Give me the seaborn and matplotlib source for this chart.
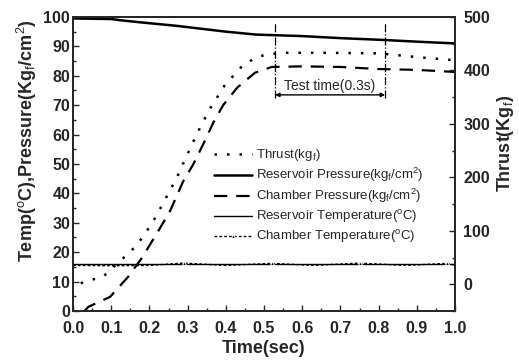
import matplotlib
matplotlib.use("Agg")
import matplotlib.pyplot as plt
import seaborn as sns
import numpy as np

# Thrust (right axis, Kg_f)
thrust_t = [0.02, 0.08, 0.136, 0.167, 0.207, 0.24, 0.272, 0.298, 0.327, 0.359,
            0.398, 0.445, 0.484, 0.52, 0.55, 0.65, 0.8, 0.9, 1.0]
thrust = [2, 15, 52, 73, 114, 157, 200, 241, 285, 329,
          373, 410, 426, 431, 433, 433, 432, 425, 419]

# Reservoir pressure (kg_f/cm^2)
res_p_t = [0.0, 0.1, 0.13, 0.19, 0.27, 0.4, 0.48, 0.6, 0.7, 0.81, 0.9, 1.0]
res_p = [99.5, 99.3, 98.8, 98.0, 97.0, 95.0, 94.0, 93.5, 92.8, 92.2, 91.6, 91.0]

# Chamber pressure (kg_f/cm^2)
ch_p_t = [0.03, 0.04, 0.097, 0.144, 0.18, 0.22, 0.254, 0.288, 0.314, 0.34, 0.367,
          0.393, 0.43, 0.476, 0.52, 0.6, 0.7, 0.8, 0.9, 1.0]
ch_p = [0.0, 1.4, 4.8, 11.6, 18.0, 26.5, 34.0, 44.0, 49.7, 56.5, 64.0,
        70.0, 76.0, 81.0, 83.0, 83.2, 83.0, 82.3, 82.0, 81.3]

# Reservoir temperature (C)
res_t_t = [0.0, 1.0]
res_t = [15.9, 15.9]

# Chamber temperature (C)
ch_t_t = [0.0, 0.1, 0.2, 0.29, 0.4, 0.52, 0.63, 0.75, 0.87, 0.98, 1.0]
ch_t = [15.5, 15.4, 15.5, 16.3, 15.5, 16.2, 15.5, 16.3, 15.5, 16.2, 15.6]

# test-time annotation
test_start, test_end = 0.529, 0.817

sns.set_style("ticks")
plt.rcParams['font.family'] = ['Liberation Sans', 'DejaVu Sans']
plt.rcParams['mathtext.fontset'] = 'custom'
plt.rcParams['mathtext.rm'] = 'Liberation Sans'
plt.rcParams['mathtext.it'] = 'Liberation Sans'
plt.rcParams['mathtext.bf'] = 'Liberation Sans:bold'

fig = plt.figure(figsize=(5.19, 3.61), dpi=100)
ax = fig.add_axes([0.1407, 0.1385, 0.736, 0.8145])
ax2 = ax.twinx()

sns.lineplot(x=res_p_t, y=res_p, ax=ax, color='black', lw=1.8,
             label='Reservoir Pressure(kg$_f$/cm$^2$)')
sns.lineplot(x=ch_p_t, y=ch_p, ax=ax, color='black', lw=1.6,
             linestyle=(0, (6, 4)), label='Chamber Pressure(kg$_f$/cm$^2$)')
sns.lineplot(x=res_t_t, y=res_t, ax=ax, color='black', lw=1.0,
             label='Reservoir Temperature($^o$C)')
sns.lineplot(x=ch_t_t, y=ch_t, ax=ax, color='black', lw=1.0,
             linestyle=(0, (2, 1.5)), marker='^', markersize=3,
             markevery=[3, 5, 7, 9], label='Chamber Temperature($^o$C)')
sns.lineplot(x=thrust_t, y=thrust, ax=ax2, color='black', lw=1.8,
             linestyle=(0, (1, 4)), label='Thrust(kg$_f$)')

# test time markers
for xv in (test_start, test_end):
    ax.plot([xv, xv], [72.4, 98], color='black', lw=0.9, linestyle='-.')
ax.annotate('', xy=(test_start, 73.5), xytext=(test_end, 73.5),
            arrowprops=dict(arrowstyle='<|-|>', color='black', lw=1.0,
                            mutation_scale=6, shrinkA=0, shrinkB=0))
ax.text((test_start + test_end) / 2, 76.5, 'Test time(0.3s)', ha='center',
        va='center', fontsize=10)

ax.set_xlim(0, 1.0)
ax.set_ylim(0, 100)
ax2.set_ylim(-50, 500)
ax.set_xticks(np.arange(0, 1.01, 0.1))
ax.set_xticks(np.arange(0, 1.01, 0.05), minor=True)
ax.set_xticklabels([f'{v:.1f}' for v in np.arange(0, 1.01, 0.1)])
ax.set_yticks(np.arange(0, 101, 10))
ax.set_yticks(np.arange(0, 101, 5), minor=True)
ax2.set_yticks(np.arange(0, 501, 100))
ax2.set_yticks(np.arange(-50, 501, 50), minor=True)

for a in (ax, ax2):
    a.tick_params(which='both', direction='in', width=1.0)
    a.tick_params(which='major', length=4, labelsize=11.5)
    a.tick_params(which='minor', length=2)
    for lab in a.get_xticklabels() + a.get_yticklabels():
        lab.set_fontweight('bold')
    for s in a.spines.values():
        s.set_visible(True)
        s.set_linewidth(1.3)
ax.tick_params(axis='y', pad=2)
ax.tick_params(axis='x', pad=7)
ax2.tick_params(axis='y', pad=6)

ax.set_xlabel('Time(sec)', fontsize=13, fontweight='bold')
ax.xaxis.set_label_coords(0.5, -0.1)
ax.set_ylabel(r'Temp($^o$C),Pressure(Kg$_f$/cm$^2$)', fontsize=13,
              fontweight='bold')
ax.yaxis.set_label_coords(-0.09, 0.58)
ax2.set_ylabel(r'Thrust(Kg$_f$)', fontsize=13, fontweight='bold')
ax2.yaxis.set_label_coords(1.105, 0.57)

h1, l1 = ax.get_legend_handles_labels()
h2, l2 = ax2.get_legend_handles_labels()
if ax2.get_legend():
    ax2.get_legend().remove()
ax.legend(h2 + h1, l2 + l1, loc='upper left', bbox_to_anchor=(0.355, 0.575),
          frameon=False, fontsize=9.5, handlelength=2.9, handletextpad=0.3,
          labelspacing=0.22, borderaxespad=0)

fig.savefig('out.png', dpi=100)
